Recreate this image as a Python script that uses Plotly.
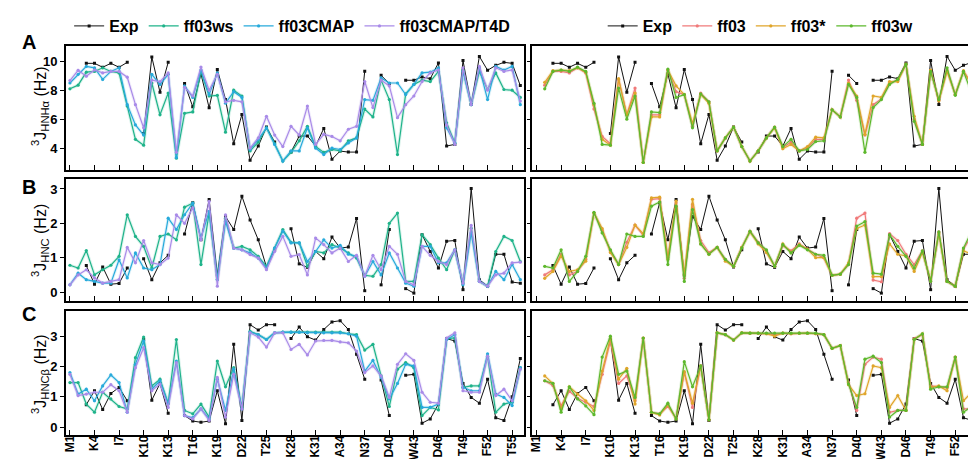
import plotly.graph_objects as go

W, H = 976, 459

residues = list(range(1, 57))
tick_vals = list(range(1, 56, 3))
tick_text = ["M1", "K4", "I7", "K10", "K13", "T16", "K19", "D22", "T25", "K28",
             "K31", "A34", "N37", "D40", "W43", "D46", "T49", "F52", "T55"]

# ---------------- 3J HNHa ----------------
A_exp = [None, None, 9.86, 9.86, 9.59, 9.86, 9.59, 9.93, None, 5.0,
         10.3, 7.86, 9.93, None, 8.46, 6.85, 9.13, 6.78, 9.43, 7.36,
         4.3, 6.32, 3.15, 4.14, 5.45, 4.41, None, 3.72, 4.83, 4.83,
         4.14, 5.36, 3.22, 3.79, 3.72, 3.72, 9.31, None, 9.03, 8.46,
         None, 8.69, 8.69, 8.92, 8.80, 9.89, 4.14, 4.25, 10.05, 7.01,
         10.34, 9.38, 9.72, 9.93, 9.86, 8.32]
A_ws = [8.1, 8.35, 9.25, 9.3, 9.55, 9.3, 9.2, 6.9, 4.6, 4.2,
        8.5, 6.3, 7.8, 3.3, 6.4, 6.5, 9.3, 7.6, 7.65, 5.1,
        8.0, 7.6, 3.8, 4.4, 5.4, 4.3, 3.1, 3.7, 4.5, 5.5,
        4.1, 3.7, 3.9, 3.8, 4.5, 4.7, 6.7, 6.15, 8.7, 7.35,
        3.55, 7.75, 8.4, 8.7, 8.6, 9.3, 5.75, 4.35, 9.4, 7.0,
        9.3, 8.05, 9.2, 8.05, 8.0, 7.5]
A_cmap = [8.5, 9.1, 9.65, 9.55, 8.75, 9.3, 9.55, 7.0, 5.6, 4.9,
          9.1, 8.4, 9.1, 3.35, 8.3, 7.5, 9.4, 7.7, 9.2, 7.1,
          7.9, 7.5, 3.9, 4.6, 5.4, 4.25, 3.1, 3.8, 3.8, 5.4,
          4.0, 3.55, 4.0, 3.9, 4.35, 4.7, 7.35, 7.3, 8.85, 8.5,
          8.5, 7.7, 8.4, 9.2, 9.25, 9.55, 5.4, 4.35, 9.3, 7.0,
          9.55, 7.35, 9.65, 9.4, 9.65, 7.0]
A_t4d = [8.67, 9.38, 8.97, 9.4, 9.2, 9.3, 9.3, 8.9, 7.0, 5.4,
         8.7, 8.6, 9.2, 3.7, 8.2, 7.6, 9.6, 8.0, 9.1, 7.2,
         7.3, 7.2, 4.0, 4.7, 6.2, 4.9, 4.1, 5.5, 4.9, 6.9,
         4.25, 4.95, 4.8, 4.5, 5.3, 5.5, 8.6, 6.8, 8.7, 8.3,
         6.1, 7.0, 7.6, 8.6, 9.2, 9.4, 5.6, 4.25, 9.55, 7.0,
         9.65, 8.0, 9.55, 9.3, 9.4, 7.25]
A_ff03 = [None, 8.35, 9.3, 9.3, 9.2, 9.55, 9.2, 6.7, 4.8, 4.3,
          8.75, 6.3, 8.15, 3.0, 6.3, 6.3, 9.4, 7.9, 7.7, 5.5,
          7.8, 7.2, 3.8, 4.7, 5.45, 4.1, 3.1, 3.8, 4.7, 5.45,
          4.05, 4.4, 3.8, 4.0, 4.6, 4.6, 6.65, 6.15, 8.7, 7.3,
          4.9, 7.0, 7.4, 8.5, 8.7, 9.8, 6.0, 4.25, 9.35, 7.3,
          9.4, 7.7, 9.3, 8.5, 8.2, 7.4]
A_ff03s = [None, 8.55, 9.35, 9.4, 9.35, 9.55, 9.25, 7.0, 4.6, 4.2,
           8.8, 6.3, 7.8, 3.0, 6.15, 6.15, 9.4, 8.3, 7.7, 5.7,
           7.7, 7.1, 3.8, 4.7, 5.45, 4.1, 3.1, 3.8, 4.7, 5.4,
           3.95, 4.25, 3.8, 4.1, 4.75, 4.7, 6.65, 6.15, 8.5, 7.6,
           4.95, 7.6, 7.5, 8.6, 8.6, 9.8, 6.2, 4.25, 9.4, 7.25,
           9.3, 7.7, 9.35, 8.3, 7.9, 7.5]
A_ff03w = [None, 8.1, 9.3, 9.4, 9.3, 9.6, 9.3, 7.1, 4.25, 4.2,
           8.15, 6.0, 7.6, 3.0, 6.5, 6.45, 9.47, 7.5, 7.7, 5.4,
           7.75, 7.2, 3.8, 4.7, 5.45, 4.1, 3.1, 3.8, 4.7, 5.45,
           4.1, 4.6, 3.8, 3.9, 4.45, 4.5, 6.65, 6.15, 8.4, 7.5,
           3.7, 6.8, 7.35, 8.4, 8.75, 9.8, 5.85, 4.25, 9.3, 7.35,
           9.55, 7.65, 9.3, 7.8, 7.5, 7.2]

# ---------------- 3J HNC ----------------
B_exp = [None, None, 0.77, 0.23, 0.73, 0.23, 0.25, 0.7, None, 0.97,
         0.36, 0.85, 1.07, None, 1.69, 2.6, 1.52, 2.69, 0.5, 2.2,
         1.82, 2.79, 2.1, 1.52, 0.73, 1.23, None, 1.84, 0.82, 0.72,
         1.18, 0.97, 1.6, 1.28, 1.31, 2.14, 0.04, None, 0.21, 1.82,
         None, 0.1, -0.03, 1.67, 1.18, 0.7, 1.48, 1.5, 0.07, 3.01,
         0.36, 0.17, 1.1, 1.1, 0.29, 0.26]
B_ws = [0.78, 0.7, 1.21, 0.5, 0.65, 0.78, 1.04, 2.25, 1.62, 1.33,
        0.7, 1.62, 1.69, 1.52, 2.47, 2.59, 0.8, 2.3, 0.36, 2.15,
        1.28, 1.33, 1.23, 1.04, 0.75, 1.28, 1.82, 1.45, 1.43, 0.75,
        1.18, 1.14, 1.38, 1.28, 1.14, 0.99, 0.49, 0.46, 0.8, 2.0,
        2.3, 0.31, 0.31, 1.67, 1.38, 0.99, 0.65, 1.23, 0.26, 1.86,
        0.31, 0.17, 1.18, 1.62, 1.5, 0.89]
B_cmap = [0.21, 0.55, 0.36, 0.31, 0.26, 0.26, 0.94, 0.41, 1.14, 0.7,
          0.65, 0.8, 2.15, 1.82, 2.25, 2.59, 1.57, 2.35, 0.36, 2.06,
          1.28, 1.23, 1.14, 0.99, 0.7, 1.28, 1.77, 1.43, 1.43, 0.89,
          1.18, 1.52, 1.28, 1.36, 1.1, 1.04, 0.46, 0.89, 0.5, 1.14,
          0.7, 0.26, 0.17, 1.33, 1.33, 0.85, 0.85, 1.23, 0.21, 1.72,
          0.31, 0.17, 0.6, 0.36, 0.8, 0.36]
B_t4d = [0.21, 0.5, 0.65, 0.41, 0.26, 0.31, 0.36, 1.3, 0.85, 1.5,
         0.85, 0.8, 0.99, 2.25, 2.0, 2.45, 1.52, 2.64, 0.17, 2.25,
         1.28, 1.23, 1.09, 0.99, 0.65, 1.18, 1.62, 1.04, 1.09, 0.5,
         1.57, 1.38, 1.14, 1.28, 0.89, 1.07, 0.46, 1.07, 0.65, 1.33,
         1.1, 0.31, 0.21, 1.33, 1.07, 0.89, 0.8, 1.23, 0.26, 1.94,
         0.31, 0.17, 0.5, 0.55, 0.85, 0.87]
B_ff03 = [None, 0.5, 0.65, 1.1, 0.5, 0.6, 0.95, 2.3, 1.8, 1.2,
          0.8, 1.45, 1.95, 1.65, 2.7, 2.72, 1.0, 2.6, 0.4, 2.55,
          1.5, 1.15, 1.3, 0.95, 0.75, 1.3, 1.77, 1.45, 1.2, 0.75,
          1.35, 1.2, 1.4, 1.25, 1.1, 1.0, 0.49, 0.52, 0.8, 2.15,
          2.3, 0.35, 0.3, 1.7, 1.5, 1.1, 0.8, 1.2, 0.31, 1.75,
          0.31, 0.17, 1.25, 1.65, 1.5, 1.2]
B_ff03s = [None, 0.4, 0.6, 1.05, 0.6, 0.65, 0.9, 2.3, 1.85, 1.15,
           0.8, 1.3, 1.95, 1.7, 2.74, 2.76, 0.95, 2.65, 0.5, 2.7,
           1.4, 1.1, 1.3, 0.9, 0.75, 1.3, 1.75, 1.4, 1.15, 0.75,
           1.4, 1.15, 1.38, 1.25, 1.0, 1.0, 0.49, 0.52, 0.85, 1.85,
           1.95, 0.45, 0.45, 1.4, 1.1, 1.05, 0.6, 1.15, 0.35, 1.7,
           0.31, 0.17, 1.2, 1.1, 1.05, 0.9]
B_ff03w = [None, 0.75, 0.7, 1.23, 0.31, 0.6, 1.04, 2.32, 1.72, 1.23,
           0.8, 1.69, 1.62, 1.62, 2.5, 2.62, 0.8, 2.5, 0.31, 2.4,
           1.4, 1.1, 1.3, 0.95, 0.75, 1.28, 1.77, 1.43, 1.23, 0.75,
           1.38, 1.14, 1.36, 1.23, 1.1, 1.07, 0.49, 0.52, 0.8, 1.92,
           2.05, 0.55, 0.52, 1.67, 1.33, 1.04, 0.7, 1.2, 0.31, 1.75,
           0.31, 0.17, 1.28, 1.77, 1.86, 1.4]

# ---------------- 3J HNCb ----------------
C_exp = [None, None, 0.74, 1.2, 0.58, 1.11, 1.31, 0.87, None, 2.89,
         0.89, 1.44, 0.46, None, 0.38, 0.2, 0.16, 0.2, 1.2, 0.11,
         2.73, 0.22, 3.38, 3.2, 3.38, 3.38, None, 2.92, 3.3, 2.98,
         2.87, 3.22, 3.47, 3.51, 3.22, 2.4, 1.58, None, 1.55, 0.38,
         None, 1.71, 1.74, 0.13, 0.27, 0.76, 2.92, 2.84, 1.44, 0.98,
         0.79, 1.58, 0.31, 0.22, 1.0, 2.26]
C_ws = [1.47, 1.47, 0.76, 0.49, 1.15, 0.93, 0.68, 0.6, 2.29, 2.97,
        1.36, 1.58, 0.79, 2.89, 0.55, 0.44, 0.76, 0.33, 2.18, 1.33,
        1.96, 0.65, 3.16, 3.05, 2.89, 3.11, 3.13, 3.13, 3.13, 3.13,
        3.13, 3.13, 3.13, 3.13, 3.08, 3.05, 2.54, 2.73, 1.69, 0.68,
        1.91, 2.13, 1.96, 0.38, 0.65, 0.57, 2.92, 2.94, 1.31, 1.36,
        1.36, 2.34, 0.49, 0.76, 0.82, 1.96]
C_cmap = [1.8, 1.09, 1.25, 0.87, 1.36, 1.72, 1.47, 0.49, 2.07, 2.84,
          1.25, 1.53, 0.76, 2.18, 0.38, 0.31, 0.6, 0.27, 1.58, 0.55,
          1.91, 0.6, 3.13, 3.05, 2.89, 3.11, 3.13, 3.13, 3.13, 3.11,
          3.11, 3.11, 3.11, 3.11, 3.08, 3.0, 1.85, 2.2, 1.64, 0.93,
          1.44, 2.07, 2.02, 0.65, 0.65, 0.76, 2.89, 3.05, 1.31, 1.2,
          1.2, 2.42, 1.09, 0.98, 0.71, 1.96]
C_t4d = [1.74, 1.04, 1.09, 1.15, 1.15, 1.4, 1.2, 0.49, 1.96, 2.62,
         1.2, 1.42, 0.65, 2.13, 0.38, 0.27, 0.6, 0.22, 1.64, 0.33,
         1.74, 0.6, 3.11, 2.97, 2.64, 3.11, 3.11, 2.56, 2.73, 2.38,
         2.84, 2.86, 2.86, 2.81, 2.78, 2.51, 1.8, 2.02, 1.69, 0.98,
         2.07, 2.42, 2.2, 1.15, 0.82, 0.79, 2.94, 3.11, 1.2, 1.15,
         1.15, 2.34, 1.04, 1.25, 0.87, 1.91]
C_ff03 = [None, 1.53, 1.37, 0.71, 1.18, 0.95, 0.82, 0.68, 1.74, 2.84,
          1.44, 1.69, 0.87, 2.94, 0.49, 0.44, 0.68, 0.3, 1.8, 0.65,
          2.02, 0.24, 3.11, 3.05, 2.87, 3.11, 3.1, 3.1, 3.08, 3.05,
          3.1, 3.08, 3.1, 3.1, 3.08, 3.05, 2.6, 2.69, 1.47, 0.55,
          2.07, 2.31, 2.24, 0.49, 0.55, 0.55, 2.92, 3.05, 1.36, 1.33,
          1.3, 2.31, 0.6, 0.6, 0.6, 1.6]
C_ff03s = [None, 1.69, 1.44, 0.6, 1.33, 1.09, 0.87, 0.55, 1.85, 2.94,
           1.58, 1.94, 0.76, 2.94, 0.49, 0.4, 0.74, 0.27, 1.83, 0.79,
           2.02, 0.24, 3.11, 3.05, 2.87, 3.11, 3.1, 3.1, 3.08, 3.0,
           3.1, 3.08, 3.1, 3.1, 3.08, 3.05, 2.6, 2.69, 1.4, 1.04,
           1.1, 2.02, 1.96, 0.65, 1.04, 0.55, 2.89, 3.08, 1.31, 1.36,
           1.2, 2.31, 0.87, 1.15, 1.0, 1.5]
C_ff03w = [None, 1.53, 1.44, 0.49, 1.33, 0.93, 0.7, 0.41, 2.31, 3.0,
           1.74, 1.85, 0.98, 2.94, 0.49, 0.44, 0.79, 0.27, 2.16, 1.33,
           2.02, 0.24, 3.11, 3.05, 2.87, 3.11, 3.1, 3.1, 3.1, 3.1,
           3.1, 3.1, 3.1, 3.1, 3.1, 3.05, 2.6, 2.69, 1.42, 0.65,
           2.24, 2.34, 2.13, 0.33, 0.55, 0.55, 2.89, 3.08, 1.25, 1.33,
           1.33, 2.31, 0.49, 0.68, 0.68, 1.8]

COL = {
    "Exp": "#111111",
    "ff03ws": "#1fb38a",
    "ff03CMAP": "#27aadb",
    "ff03CMAP/T4D": "#a98be8",
    "ff03": "#f07a7a",
    "ff03*": "#e0a52a",
    "ff03w": "#5db82c",
}

FONT = "Liberation Sans, Arial, sans-serif"


def rgba(hexc, a):
    h = hexc.lstrip("#")
    r, g, b = int(h[0:2], 16), int(h[2:4], 16), int(h[4:6], 16)
    return f"rgba({r},{g},{b},{a})"


fig = go.Figure()


def add(xa, ya, y, name, legend, show, rank):
    c = COL[name]
    exp = name == "Exp"
    if not exp:
        fig.add_trace(go.Scatter(
            x=residues, y=y, mode="lines", xaxis=xa, yaxis=ya,
            line=dict(color=rgba(c, 0.16), width=3.2),
            showlegend=False, hoverinfo="skip", legend=legend))
    fig.add_trace(go.Scatter(
        x=residues, y=y, name=name, mode="lines+markers",
        xaxis=xa, yaxis=ya, legend=legend, showlegend=show, legendrank=rank,
        line=dict(color=c, width=1.0 if exp else 1.2),
        marker=dict(symbol="square" if exp else "circle",
                    size=3 if exp else 3.2, color=c)))


rows = [
    ("x", "y", "x2", "y2", A_exp, [A_ws, A_cmap, A_t4d], [A_ff03, A_ff03s, A_ff03w], True),
    ("x3", "y3", "x4", "y4", B_exp, [B_ws, B_cmap, B_t4d], [B_ff03, B_ff03s, B_ff03w], False),
    ("x5", "y5", "x6", "y6", C_exp, [C_ws, C_cmap, C_t4d], [C_ff03, C_ff03s, C_ff03w], False),
]
left_names = ["ff03ws", "ff03CMAP", "ff03CMAP/T4D"]
right_names = ["ff03", "ff03*", "ff03w"]

for xl, yl, xr, yr, exp, lser, rser, show in rows:
    add(xl, yl, exp, "Exp", "legend", show, 1)
    for i, (nm, s) in enumerate(zip(left_names, lser)):
        add(xl, yl, s, nm, "legend", show, i + 2)
    add(xr, yr, exp, "Exp", "legend2", show, 1)
    for i, (nm, s) in enumerate(zip(right_names, rser)):
        add(xr, yr, s, nm, "legend2", show, i + 2)

# ---------------- layout ----------------
def px_x(p):
    return p / W


def px_y(p):
    return 1 - p / H


row_px = [(38, 162), (171, 293), (303, 427)]
yranges = [[2.48, 11.06], [-0.26, 3.29], [-0.26, 3.83]]
yticks = [[4, 6, 8, 10], [0, 1, 2, 3], [0, 1, 2, 3]]
left_dom = [px_x(55), px_x(515)]
right_dom = [px_x(523), 1.0]

tickfont = dict(family=FONT, size=13, color="black", weight="bold")
xtickfont = dict(family=FONT, size=12, color="black", weight="bold")
layout = dict(
    width=W, height=H, margin=dict(l=0, r=0, t=0, b=0),
    paper_bgcolor="white", plot_bgcolor="white",
    font=dict(family=FONT, color="black"),
)

for i, ((top, bot), yr_, yt) in enumerate(zip(row_px, yranges, yticks)):
    ydom = [px_y(bot), px_y(top)]
    last = i == 2
    for side in range(2):
        idx = 2 * i + side + 1
        xname = "xaxis" if idx == 1 else f"xaxis{idx}"
        yname = "yaxis" if idx == 1 else f"yaxis{idx}"
        anchor_y = "y" if idx == 1 else f"y{idx}"
        anchor_x = "x" if idx == 1 else f"x{idx}"
        layout[xname] = dict(
            domain=left_dom if side == 0 else right_dom,
            anchor=anchor_y,
            range=[0.5, 56.5] if side == 0 else [0.5, 55.5],
            showline=True, linecolor="black", linewidth=1.5, mirror=True,
            ticks="inside", ticklen=5, tickwidth=1.2, tickcolor="black",
            tickmode="array", tickvals=tick_vals, ticktext=tick_text,
            showticklabels=last, tickangle=-90, tickfont=xtickfont,
            ticklabelstandoff=-6,
            showgrid=False, zeroline=False,
        )
        layout[yname] = dict(
            domain=ydom, anchor=anchor_x, range=yr_,
            showline=True, linecolor="black", linewidth=1.5,
            mirror=(side == 0),
            ticks="outside", ticklen=4, tickwidth=1.2, tickcolor="black",
            tickvals=yt, showticklabels=(side == 0), tickfont=tickfont,
            showgrid=False, zeroline=False,
        )

legfont = dict(family=FONT, size=16, color="black", weight="bold")
layout["legend"] = dict(
    orientation="h", x=px_x(282), y=px_y(18), xanchor="center", yanchor="middle",
    font=legfont, bgcolor="rgba(0,0,0,0)", itemwidth=30, traceorder="normal")
layout["legend2"] = dict(
    orientation="h", x=px_x(752), y=px_y(18), xanchor="center", yanchor="middle",
    font=legfont, bgcolor="rgba(0,0,0,0)", itemwidth=30, traceorder="normal")

annotations = []
for lab, yy in [("A", 34), ("B", 179), ("C", 306)]:
    annotations.append(dict(
        text=lab, x=px_x(18), y=px_y(yy), xref="paper", yref="paper",
        xanchor="center", yanchor="middle", showarrow=False,
        font=dict(family=FONT, size=20, color="black", weight="bold")))

ytitles = [("<sup>3</sup>J<sub>HNHα</sub> (Hz)", 98),
           ("<sup>3</sup>J<sub>HNC</sub> (Hz)", 232),
           ("<sup>3</sup>J<sub>HNCβ</sub> (Hz)", 366)]
for txt, yy in ytitles:
    annotations.append(dict(
        text=txt, x=px_x(29), y=px_y(yy), xref="paper", yref="paper",
        xanchor="center", yanchor="middle", showarrow=False, textangle=-90,
        font=dict(family=FONT, size=16, color="black")))
layout["annotations"] = annotations

fig.update_layout(**layout)
fig.write_html("out.html")
